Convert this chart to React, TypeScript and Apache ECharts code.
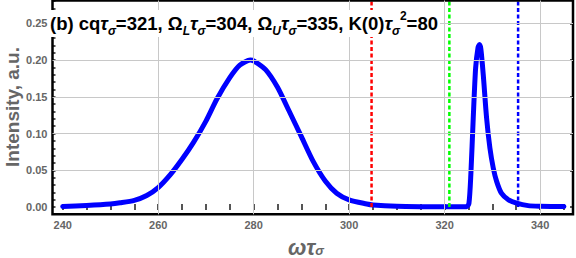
import React, { useEffect, useRef } from "react";
import * as echarts from "echarts";

// Spectrum
const omega = [
  240, 245, 250, 252, 255, 257.6, 260, 262.5, 265, 267.4, 270, 272.3, 275, 277.1, 279.3,
  280, 282.5, 285, 287.4, 290, 292.5, 295, 297.4, 300, 303.7, 305, 310, 315, 320, 324.6,
  325.1, 325.5, 326.0, 326.5, 327.0, 327.3, 327.6, 328.1, 328.8, 329.5, 330.2, 330.9,
  331.9, 333.4, 335.1, 337.5, 340, 345,
];
const intensity = [
  0.0008, 0.0022, 0.0042, 0.0058, 0.0092, 0.0158, 0.0265, 0.0437, 0.065, 0.088, 0.117,
  0.147, 0.176, 0.193, 0.2, 0.199, 0.187, 0.163, 0.131, 0.0958, 0.0618, 0.0355, 0.0189,
  0.0098, 0.0043, 0.003, 0.0012, 0.0006, 0.0004, 0.0005, 0.005, 0.044, 0.121, 0.189,
  0.217, 0.221, 0.215, 0.18, 0.121, 0.08, 0.053, 0.035, 0.019, 0.0098, 0.0053, 0.002,
  0.0012, 0.0007,
];

// Vertical dashed markers: Omega_L, cq, Omega_U
const markerX = [304.7, 321, 335.4];
const markerColors = ["#ff0000", "#00ff00", "#0000ff"];

const xTickLabels = [240, 260, 280, 300, 320, 340];
const xMinorTicks = [
  240, 245, 250, 255, 260, 265, 270, 275, 280, 285, 290, 295, 300, 305, 310, 315, 320,
  325, 330, 335, 340, 345,
];
const xGridLines = [260, 280, 300, 320, 340];
const yTickLabels = [0, 0.05, 0.1, 0.15, 0.2, 0.25];
const yMinorTicks = [
  0, 0.01, 0.02, 0.03, 0.04, 0.05, 0.06, 0.07, 0.08, 0.09, 0.1, 0.11, 0.12, 0.13, 0.14,
  0.15, 0.16, 0.17, 0.18, 0.19, 0.2, 0.21, 0.22, 0.23, 0.24, 0.25, 0.26, 0.27, 0.28,
];
const yGridLines = [0.05, 0.1, 0.15, 0.2, 0.25];

const X_MIN = 237.86;
const X_MAX = 346.9;
const Y_MIN = -0.0098;
const Y_MAX = 0.281;

const FONT = "Liberation Sans, Arial, sans-serif";
const GRAY = "#666";

export default function App() {
  const ref = useRef<HTMLDivElement>(null);

  useEffect(() => {
    if (!ref.current) return;
    const chart = echarts.init(ref.current, undefined, { renderer: "svg" });

    const tickStyle = { color: "#555", width: 2 };
    const main = { fontSize: 18.5, fontWeight: "bold", color: "#000", fontFamily: FONT, lineHeight: 27, verticalAlign: "middle" };
    const it = { ...main, fontStyle: "italic" };
    const sub = { fontSize: 12, fontWeight: "bold", fontStyle: "italic", color: "#000", fontFamily: FONT, lineHeight: 27, verticalAlign: "bottom" };
    const sup = { fontSize: 12, fontWeight: "bold", color: "#000", fontFamily: FONT, lineHeight: 27, verticalAlign: "top" };

    const option: any = {
      animation: false,
      title: {
        text:
          "{m|(b) cq}{t|τ}{s|σ}{m|=321, Ω}{s|L}{t|τ}{s|σ}{m|=304, Ω}{s|U}{t|τ}{s|σ}{m|=335, K(0)}{t|τ}{s|σ}{p|2}{m|=80}",
        left: 50,
        top: 10,
        padding: [0, 2, 0, 0],
        backgroundColor: "#fff",
        textStyle: {
          rich: { m: main, t: it, s: sub, p: sup },
        },
        z: 10,
      },
      grid: {
        left: 52.5,
        right: 3,
        top: 0.5,
        bottom: 43.7,
        show: true,
        borderColor: "#000",
        borderWidth: 2.5,
        backgroundColor: "transparent",
        z: 5,
      },
      xAxis: [
        {
          type: "value",
          min: X_MIN,
          max: X_MAX,
          position: "bottom",
          axisLine: { show: false },
          axisTick: { show: true, inside: true, length: 3, lineStyle: tickStyle, customValues: xMinorTicks },
          axisLabel: {
            customValues: xTickLabels,
            color: GRAY,
            fontSize: 11,
            fontWeight: "bold",
            fontFamily: FONT,
            margin: 5,
          },
          splitLine: { show: false },
        },
        {
          type: "value",
          min: X_MIN,
          max: X_MAX,
          position: "top",
          axisLine: { show: false },
          axisTick: { show: true, inside: true, length: 3, lineStyle: tickStyle, customValues: xMinorTicks },
          axisLabel: { show: false },
          splitLine: { show: false },
        },
      ],
      yAxis: [
        {
          type: "value",
          min: Y_MIN,
          max: Y_MAX,
          position: "left",
          axisLine: { show: false },
          axisTick: { show: true, inside: true, length: 3, lineStyle: tickStyle, customValues: yMinorTicks },
          axisLabel: {
            customValues: yTickLabels,
            formatter: (v: number) => v.toFixed(2),
            color: GRAY,
            fontSize: 11,
            fontWeight: "bold",
            fontFamily: FONT,
            margin: 5,
          },
          splitLine: { show: false },
        },
        {
          type: "value",
          min: Y_MIN,
          max: Y_MAX,
          position: "right",
          axisLine: { show: false },
          axisTick: { show: true, inside: true, length: 3, lineStyle: tickStyle, customValues: yTickLabels },
          axisLabel: { show: false },
          splitLine: { show: false },
        },
      ],
      series: [
        {
          type: "line",
          data: [],
          z: 1,
          silent: true,
          markLine: {
            silent: true,
            symbol: "none",
            label: { show: false },
            lineStyle: { color: "#c8c8c8", type: "solid", width: 1 },
            data: [
              ...xGridLines.map((x) => ({ xAxis: x })),
              ...yGridLines.map((y) => ({ yAxis: y })),
            ],
          },
        },
        {
          type: "line",
          data: omega.map((x, i) => [x, intensity[i]]),
          showSymbol: false,
          smooth: 0.25,
          lineStyle: { color: "#0000ff", width: 5, cap: "round", join: "round" },
          z: 3,
        },
        ...markerX.map((x, i) => ({
          type: "line",
          data: [
            [x, 0],
            [x, Y_MAX],
          ],
          showSymbol: false,
          lineStyle: { color: markerColors[i], width: 2.5, type: [4, 2.5] },
          z: 4,
        })),
      ],
      graphic: [
        {
          type: "text",
          x: 12,
          y: 107,
          rotation: Math.PI / 2,
          style: {
            text: "Intensity, a.u.",
            font: `bold 19px ${FONT}`,
            fill: GRAY,
            align: "center",
            verticalAlign: "middle",
          },
        },
        {
          type: "text",
          x: 288,
          y: 237,
          style: {
            text: "{w|ωτ}{s|σ}",
            fill: GRAY,
            rich: {
              w: { fontSize: 22, fontStyle: "italic", fontWeight: "bold", fill: GRAY, fontFamily: FONT, lineHeight: 20, verticalAlign: "middle" },
              s: { fontSize: 13, fontStyle: "italic", fontWeight: "bold", fill: GRAY, fontFamily: FONT, lineHeight: 20, verticalAlign: "bottom" },
            },
          },
        },
      ],
    };

    chart.setOption(option);
    return () => chart.dispose();
  }, []);

  return (
    <div
      ref={ref}
      style={{ position: "absolute", left: 0, top: 0, width: 576, height: 258 }}
    />
  );
}
